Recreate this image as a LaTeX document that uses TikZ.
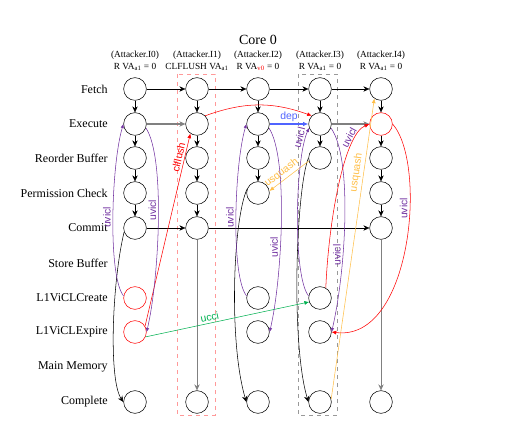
\documentclass[tikz,border=0pt]{standalone}
\usepackage{fontspec}
\setmainfont{Liberation Serif}
\setsansfont{Liberation Sans}
\usetikzlibrary{arrows.meta}

\definecolor{uvcol}{RGB}{112,48,160}
\definecolor{sqcol}{RGB}{255,190,70}
\definecolor{uccol}{RGB}{0,176,80}
\definecolor{depcol}{RGB}{80,100,255}

\tikzset{
  stage/.style={circle, draw, minimum size=17pt, inner sep=0pt},
  hit/.style={stage, draw=red},
  rowlbl/.style={anchor=east, inner sep=0pt, font=\fontsize{9}{10}\selectfont},
  instr/.style={align=center, inner sep=0pt, font=\fontsize{7}{8.8}\selectfont},
  flow/.style={-{Stealth[length=4.5pt,width=4pt]}},
  slow/.style={flow, draw=gray, line width=1pt},
  tag/.style={font=\sffamily\fontsize{7.8}{8}\selectfont, inner sep=1.5pt},
  uvline/.style={draw=uvcol, -{Latex[length=3pt,width=2.5pt]}},
  rdline/.style={draw=red, -{Latex[length=3.5pt,width=3pt]}},
  sqline/.style={draw=sqcol, -{Latex[length=3.5pt,width=3pt]}},
}

\begin{document}
\begin{tikzpicture}[x=0.75pt, y=-0.75pt]
  \useasboundingbox (0,0) rectangle (506,423);

  % instruction boxes
  \draw[red!40, dashed] (177,74) rectangle (215,415);
  \draw[gray!80, dashed] (298,74) rectangle (337,415);

  % header
  \node[font=\fontsize{10.5}{12}\selectfont] (core) at (258,40) {Core 0};
  \node[instr] (hd0) at (135,61) {(Attacker.I0)\\R VA\textsubscript{a1} = 0};
  \node[instr] (hd1) at (197,61) {(Attacker.I1)\\CLFLUSH VA\textsubscript{a1}};
  \node[instr] (hd2) at (258,61) {(Attacker.I2)\\R VA\textsubscript{\color{red}v0} = 0};
  \node[instr] (hd3) at (320,61) {(Attacker.I3)\\R VA\textsubscript{a1} = 0};
  \node[instr] (hd4) at (381,61) {(Attacker.I4)\\R VA\textsubscript{a1} = 0};

  % stages
  \node[rowlbl] (lfe) at (108,89) {Fetch};
  \node[rowlbl] (lex) at (108,124) {Execute};
  \node[rowlbl] (lrob) at (108,158) {Reorder Buffer};
  \node[rowlbl] (lpc) at (108,193) {Permission Check};
  \node[rowlbl] (lcm) at (108,228) {Commit};
  \node[rowlbl] (lsb) at (108,263) {Store Buffer};
  \node[rowlbl] (lcr) at (108,298) {L1ViCLCreate};
  \node[rowlbl] (lxp) at (108,332) {L1ViCLExpire};
  \node[rowlbl] (lmm) at (108,367) {Main Memory};
  \node[rowlbl] (lco) at (108,402) {Complete};

  % I0
  \node[stage] (fe0) at (135,89) {};
  \node[stage] (ex0) at (135,124) {};
  \node[stage] (rob0) at (135,158) {};
  \node[stage] (pc0) at (135,193) {};
  \node[stage] (cm0) at (135,228) {};
  \node[hit] (cr0) at (135,298) {};
  \node[hit] (xp0) at (135,332) {};
  \node[stage] (co0) at (135,402) {};
  % I1
  \node[stage] (fe1) at (197,89) {};
  \node[stage] (ex1) at (197,124) {};
  \node[stage] (rob1) at (197,158) {};
  \node[stage] (pc1) at (197,193) {};
  \node[stage] (cm1) at (197,228) {};
  \node[stage] (co1) at (197,402) {};
  % I2
  \node[stage] (fe2) at (258,89) {};
  \node[stage] (ex2) at (258,124) {};
  \node[stage] (rob2) at (258,158) {};
  \node[stage] (pc2) at (258,193) {};
  \node[stage] (cr2) at (258,298) {};
  \node[stage] (xp2) at (258,332) {};
  \node[stage] (co2) at (258,402) {};
  % I3
  \node[stage] (fe3) at (320,89) {};
  \node[stage] (ex3) at (320,124) {};
  \node[stage] (rob3) at (320,158) {};
  \node[stage] (cr3) at (320,298) {};
  \node[stage] (xp3) at (320,332) {};
  \node[stage] (co3) at (320,402) {};
  % I4
  \node[stage] (fe4) at (381,89) {};
  \node[hit] (ex4) at (381,124) {};
  \node[stage] (rob4) at (381,158) {};
  \node[stage] (pc4) at (381,193) {};
  \node[stage] (cm4) at (381,228) {};
  \node[stage] (co4) at (381,402) {};

  % pipeline steps
  \draw[flow] (fe0) -- (ex0);
  \draw[flow] (ex0) -- (rob0);
  \draw[flow] (rob0) -- (pc0);
  \draw[flow] (pc0) -- (cm0);
  \draw[flow] (fe1) -- (ex1);
  \draw[flow] (ex1) -- (rob1);
  \draw[flow] (rob1) -- (pc1);
  \draw[flow] (pc1) -- (cm1);
  \draw[flow] (fe2) -- (ex2);
  \draw[flow] (ex2) -- (rob2);
  \draw[flow] (rob2) -- (pc2);
  \draw[flow] (fe3) -- (ex3);
  \draw[flow] (ex3) -- (rob3);
  \draw[flow] (fe4) -- (ex4);
  \draw[flow] (ex4) -- (rob4);
  \draw[flow] (rob4) -- (pc4);
  \draw[flow] (pc4) -- (cm4);
  \draw[slow, line width=0.7pt] (cm1) -- (co1);
  \draw[slow, line width=0.7pt] (cm4) -- (co4);
  \draw[flow] (cm0.200) .. controls +(-12,50) and +(-15,-22) .. (co0.west);
  \draw[flow] (pc2.160) .. controls +(-14,30) and +(-18,-60) .. (co2.west);
  \draw[flow] (rob3.west) .. controls +(-12,30) and +(-18,-60) .. (co3.west);

  % program order
  \draw[flow] (fe0) -- (fe1);
  \draw[flow] (fe1) -- (fe2);
  \draw[flow] (fe2) -- (fe3);
  \draw[flow] (fe3) -- (fe4);
  \draw[slow] (ex0) -- (ex1);
  \draw[slow] (ex3) -- (ex4);
  \draw[flow] (cm0) -- (cm1);
  \draw[flow] (cm1) -- (cm4);

  % cross edges
  \draw[depcol, line width=1pt, -{Latex[length=4pt,width=3.5pt]}] (ex2) -- (ex3)
    node[midway, above, tag, text=depcol] {dep};
  \draw[rdline] (ex1.45) to[out=20, in=160] (ex3.135);
  \draw[rdline] (xp0.30) -- (ex1.235)
    node[pos=0.87, sloped, above, tag, text=red] {clflush};
  \draw[draw=uccol, -{Latex[length=3.5pt,width=3pt]}] (xp0.-25) -- (cr3.200)
    node[pos=0.4, sloped, above, tag, text=uccol] {ucci};
  \draw[sqline, {Latex[length=3.5pt,width=3pt]}-] (pc2.10) -- (rob3.195)
    node[pos=0.42, sloped, above, tag, text=sqcol] {usquash};
  \draw[sqline] (co3.15) -- (fe4.235)
    node[pos=0.75, sloped, above, tag, text=sqcol] {usquash};

  % uvicl edges
  \draw[uvline] (cr0.170) .. controls +(-16,-20) and +(-12,40) .. (ex0.west)
    node[pos=0.5, rotate=90, above, tag, text=uvcol] {uvicl};
  \draw[uvline] (ex0.-20) .. controls +(20,30) and +(12,-50) .. (xp0.east)
    node[pos=0.45, rotate=90, above, tag, text=uvcol] {uvicl};
  \draw[uvline] (cr2.170) .. controls +(-16,-20) and +(-12,40) .. (ex2.west)
    node[pos=0.5, rotate=90, above, tag, text=uvcol] {uvicl};
  \draw[uvline] (ex2.-20) .. controls +(20,30) and +(12,-50) .. (xp2.east)
    node[pos=0.6, rotate=90, above, tag, text=uvcol] {uvicl};
  \draw[uvline] (cr3.170) .. controls +(-16,-20) and +(-14,30) .. (ex3.200)
    node[pos=0.9, sloped, above, tag, text=uvcol] {uvicl};
  \draw[uvline] (ex3.-20) .. controls +(22,30) and +(14,-60) .. (xp3.east)
    node[pos=0.65, rotate=90, above, tag, text=uvcol] {uvicl};
  \draw[rdline] (cr3.60) .. controls +(3,-70) and +(-25,10) .. (ex4.west)
    node[pos=0.78, sloped, above, tag, text=uvcol] {uvicl};
  \draw[rdline] (ex4.east) .. controls +(35,40) and +(80,10) .. (xp3.east)
    node[pos=0.37, rotate=90, above, tag, text=uvcol] {uvicl};
\end{tikzpicture}
\end{document}
